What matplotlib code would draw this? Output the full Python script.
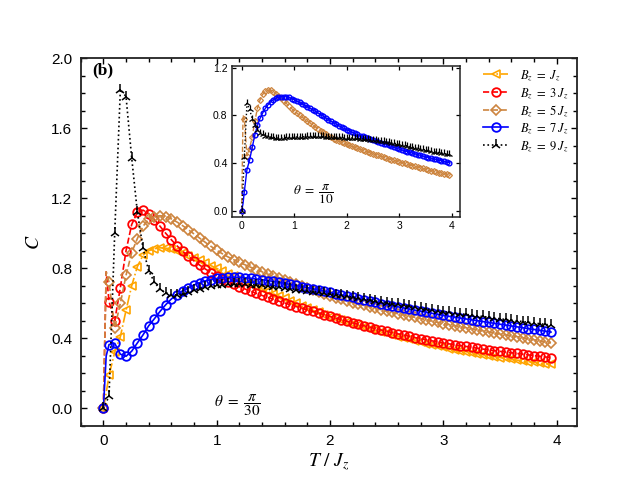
import numpy as np
import matplotlib
matplotlib.use("Agg")
import matplotlib.pyplot as plt
from matplotlib.ticker import MultipleLocator

plt.rcParams['mathtext.fontset'] = 'stix'
plt.rcParams['font.family'] = ['Liberation Sans', 'DejaVu Sans']

# temperature grid: 0, 0.025 (unmarked), then 0.05 ... 3.95
T = np.concatenate(([0.0, 0.025], np.arange(1, 80) * 0.05))
marks = [0] + list(range(2, len(T)))

# ---------- main panel (theta = pi/30) ----------
C_B1 = [0.0, 0.09, 0.19, 0.32, 0.41, 0.56, 0.70, 0.81, 0.875, 0.90, 0.912,
        0.917, 0.915, 0.908, 0.898, 0.886, 0.873, 0.859, 0.845, 0.830, 0.815,
        0.800, 0.785, 0.770, 0.755, 0.740, 0.725, 0.710, 0.696, 0.682, 0.668,
        0.654, 0.641, 0.628, 0.615, 0.602, 0.585, 0.572, 0.560, 0.548, 0.536,
        0.524, 0.514, 0.504, 0.494, 0.484, 0.474, 0.464, 0.455, 0.446, 0.437,
        0.428, 0.419, 0.410, 0.402, 0.394, 0.386, 0.378, 0.370, 0.363, 0.356,
        0.349, 0.342, 0.336, 0.330, 0.324, 0.318, 0.312, 0.306, 0.301, 0.296,
        0.291, 0.286, 0.281, 0.276, 0.272, 0.268, 0.264, 0.260, 0.256, 0.252]
C_B3 = [0.0, 0.78, 0.61, 0.50, 0.69, 0.90, 1.05, 1.12, 1.132, 1.112, 1.078,
        1.040, 1.000, 0.963, 0.928, 0.897, 0.868, 0.842, 0.818, 0.796, 0.776,
        0.757, 0.740, 0.724, 0.709, 0.695, 0.682, 0.669, 0.657, 0.645, 0.634,
        0.623, 0.612, 0.602, 0.592, 0.582, 0.572, 0.563, 0.554, 0.545, 0.535,
        0.525, 0.516, 0.507, 0.498, 0.489, 0.480, 0.472, 0.464, 0.456, 0.448,
        0.440, 0.433, 0.426, 0.419, 0.412, 0.405, 0.398, 0.392, 0.386, 0.380,
        0.374, 0.369, 0.364, 0.359, 0.354, 0.349, 0.344, 0.339, 0.334, 0.330,
        0.326, 0.322, 0.318, 0.314, 0.310, 0.306, 0.302, 0.298, 0.294, 0.290]
C_B5 = [0.0, 0.78, 0.72, 0.46, 0.60, 0.76, 0.89, 0.97, 1.04, 1.08, 1.095,
        1.100, 1.095, 1.082, 1.064, 1.043, 1.020, 0.996, 0.972, 0.948, 0.925,
        0.903, 0.883, 0.865, 0.849, 0.834, 0.820, 0.806, 0.793, 0.780, 0.767,
        0.755, 0.743, 0.731, 0.720, 0.709, 0.698, 0.687, 0.676, 0.665, 0.652,
        0.640, 0.631, 0.622, 0.613, 0.604, 0.596, 0.588, 0.580, 0.572, 0.564,
        0.556, 0.548, 0.541, 0.534, 0.527, 0.520, 0.513, 0.506, 0.499, 0.492,
        0.485, 0.479, 0.473, 0.467, 0.461, 0.455, 0.449, 0.443, 0.437, 0.431,
        0.425, 0.420, 0.415, 0.410, 0.404, 0.398, 0.392, 0.386, 0.380, 0.374]
C_B7 = [0.0, 0.30, 0.365, 0.372, 0.31, 0.298, 0.327, 0.374, 0.42, 0.472, 0.512,
        0.554, 0.592, 0.625, 0.650, 0.672, 0.688, 0.705, 0.718, 0.728, 0.736,
        0.742, 0.746, 0.748, 0.749, 0.748, 0.746, 0.743, 0.739, 0.735, 0.730,
        0.725, 0.720, 0.714, 0.708, 0.702, 0.696, 0.690, 0.683, 0.676, 0.669,
        0.662, 0.655, 0.648, 0.641, 0.634, 0.627, 0.620, 0.613, 0.606, 0.599,
        0.592, 0.586, 0.580, 0.574, 0.567, 0.561, 0.555, 0.549, 0.543, 0.537,
        0.531, 0.526, 0.521, 0.516, 0.511, 0.506, 0.501, 0.496, 0.491, 0.486,
        0.481, 0.476, 0.471, 0.466, 0.461, 0.456, 0.451, 0.446, 0.441, 0.436]
C_B9 = [0.0, 0.035, 0.07, 1.00, 1.82, 1.78, 1.43, 1.12, 0.915, 0.785, 0.722,
        0.680, 0.660, 0.650, 0.648, 0.655, 0.665, 0.675, 0.684, 0.692, 0.698,
        0.703, 0.707, 0.709, 0.710, 0.710, 0.709, 0.707, 0.705, 0.702, 0.699,
        0.695, 0.691, 0.687, 0.683, 0.679, 0.675, 0.671, 0.667, 0.663, 0.659,
        0.655, 0.650, 0.645, 0.640, 0.635, 0.630, 0.625, 0.620, 0.614, 0.609,
        0.604, 0.599, 0.594, 0.589, 0.583, 0.578, 0.573, 0.568, 0.563, 0.558,
        0.553, 0.549, 0.545, 0.541, 0.537, 0.533, 0.529, 0.525, 0.521, 0.517,
        0.512, 0.508, 0.504, 0.500, 0.496, 0.492, 0.488, 0.484, 0.480, 0.476]

# ---------- inset (theta = pi/10) ----------
Ci_B5 = [0.0, 0.80, 0.77, 0.46, 0.52, 0.62, 0.75, 0.86, 0.93, 0.975, 1.000,
         1.012, 1.008, 0.996, 0.980, 0.962, 0.942, 0.921, 0.899, 0.877, 0.856,
         0.835, 0.818, 0.801, 0.785, 0.768, 0.752, 0.736, 0.719, 0.703, 0.687,
         0.671, 0.657, 0.643, 0.630, 0.617, 0.605, 0.594, 0.584, 0.574, 0.564,
         0.555, 0.547, 0.539, 0.531, 0.523, 0.515, 0.508, 0.500, 0.493, 0.485,
         0.478, 0.471, 0.464, 0.457, 0.450, 0.443, 0.436, 0.429, 0.423, 0.416,
         0.410, 0.404, 0.397, 0.391, 0.384, 0.378, 0.372, 0.366, 0.360, 0.354,
         0.348, 0.342, 0.337, 0.331, 0.326, 0.320, 0.315, 0.310, 0.305, 0.300]
Ci_B7 = [0.0, 0.06, 0.16, 0.345, 0.425, 0.53, 0.635, 0.715, 0.775, 0.82, 0.858,
         0.888, 0.912, 0.930, 0.943, 0.951, 0.955, 0.956, 0.954, 0.949, 0.940,
         0.930, 0.919, 0.908, 0.896, 0.884, 0.872, 0.859, 0.846, 0.833, 0.820,
         0.806, 0.792, 0.778, 0.764, 0.750, 0.737, 0.724, 0.712, 0.700, 0.689,
         0.678, 0.668, 0.658, 0.648, 0.639, 0.630, 0.622, 0.614, 0.606, 0.599,
         0.592, 0.585, 0.578, 0.570, 0.562, 0.555, 0.547, 0.539, 0.531, 0.523,
         0.516, 0.509, 0.502, 0.496, 0.489, 0.483, 0.477, 0.470, 0.464, 0.458,
         0.452, 0.446, 0.441, 0.435, 0.430, 0.424, 0.419, 0.413, 0.408, 0.402]
Ci_B9 = [0.0, 0.20, 0.45, 0.90, 0.85, 0.77, 0.715, 0.68, 0.655, 0.64, 0.63,
         0.623, 0.618, 0.615, 0.613, 0.612, 0.612, 0.613, 0.614, 0.615, 0.616,
         0.617, 0.618, 0.619, 0.620, 0.621, 0.622, 0.622, 0.623, 0.623, 0.623,
         0.622, 0.622, 0.621, 0.620, 0.619, 0.618, 0.617, 0.616, 0.615, 0.613,
         0.612, 0.611, 0.609, 0.608, 0.606, 0.604, 0.602, 0.600, 0.598, 0.596,
         0.593, 0.590, 0.587, 0.584, 0.581, 0.578, 0.574, 0.570, 0.566, 0.562,
         0.558, 0.553, 0.548, 0.543, 0.538, 0.533, 0.528, 0.523, 0.518, 0.514,
         0.510, 0.505, 0.501, 0.496, 0.492, 0.488, 0.484, 0.480, 0.476, 0.472]

labels = [r'$B_z\ =\ J_z$', r'$B_z\ =\ 3\,J_z$', r'$B_z\ =\ 5\,J_z$',
          r'$B_z\ =\ 7\,J_z$', r'$B_z\ =\ 9\,J_z$']

ORANGE = '#FFA500'
RED = '#FF0000'
BROWN = '#CD853F'
BLUE = '#0000FF'
BLACK = '#000000'

fig = plt.figure(figsize=(6.41, 4.79), dpi=100)
ax = fig.add_axes([0.1259, 0.1106, 0.7743, 0.7683])

ms = 6.2
ax.plot(T, C_B1, color=ORANGE, ls='-.', lw=1.2, marker='<', ms=ms, mfc='none',
        mew=1.2, markevery=marks, label=labels[0])
ax.plot(T, C_B3, color=RED, ls='--', lw=1.2, marker='o', ms=ms, mfc='none',
        mew=1.3, markevery=marks, label=labels[1])
ax.plot(T, C_B5, color=BROWN, ls='--', lw=1.2, marker='D', ms=5.2, mfc='none',
        mew=1.2, markevery=marks, label=labels[2])
ax.plot(T, C_B7, color=BLUE, ls='-', lw=1.2, marker='o', ms=ms, mfc='none',
        mew=1.3, markevery=marks, label=labels[3])
ax.plot(T, C_B9, color=BLACK, ls=':', lw=1.2, marker='2', ms=8, mew=1.1,
        markevery=marks, label=labels[4])

ax.set_xlim(-0.2, 4.18)
ax.set_ylim(-0.1, 2.0)
ax.xaxis.set_major_locator(MultipleLocator(1))
ax.xaxis.set_minor_locator(MultipleLocator(0.2))
ax.yaxis.set_major_locator(MultipleLocator(0.4))
ax.yaxis.set_minor_locator(MultipleLocator(0.1))
ax.yaxis.set_major_formatter(matplotlib.ticker.FormatStrFormatter('%.1f'))
ax.tick_params(which='both', direction='in', top=True, right=True, width=1.0)
ax.tick_params(which='major', length=4.5, labelsize=11, pad=6)
ax.tick_params(which='minor', length=3)
for s in ax.spines.values():
    s.set_linewidth(1.3)
    s.set_color('#222222')

ax.set_xlabel(r'$T\ /\ J_z$', fontsize=14, labelpad=2)
ax.set_ylabel(r'$C$', fontsize=14, labelpad=6)
ax.text(0.023, 0.988, '(b)', transform=ax.transAxes, ha='left', va='top',
        fontsize=12.5, fontweight='bold', family=['Liberation Serif'])
ax.text(0.98, 0.02, r'$\theta\ =\ \dfrac{\pi}{30}$', fontsize=11,
        ha='left', va='center')

leg = ax.legend(loc='upper right', bbox_to_anchor=(1.0, 0.995), frameon=False,
                fontsize=9, handlelength=2.0, handletextpad=0.9,
                labelspacing=0.22, borderaxespad=0.3)

# inset
axi = fig.add_axes([0.3615, 0.5476, 0.3566, 0.3152])
msi = 3.4
axi.plot(T, Ci_B5, color=BROWN, ls='--', lw=1.0, marker='D', ms=3.0,
         mfc='none', mew=0.9, markevery=marks)
axi.plot(T, Ci_B7, color=BLUE, ls='-', lw=1.0, marker='o', ms=msi,
         mfc='none', mew=1.0, markevery=marks)
axi.plot(T, Ci_B9, color=BLACK, ls=':', lw=1.0, marker='2', ms=5.5, mew=0.9,
         markevery=marks)
axi.set_xlim(-0.19, 4.16)
axi.set_ylim(-0.05, 1.215)
axi.xaxis.set_major_locator(MultipleLocator(1))
axi.yaxis.set_major_locator(MultipleLocator(0.4))
axi.yaxis.set_major_formatter(matplotlib.ticker.FormatStrFormatter('%.1f'))
axi.tick_params(which='both', direction='in', top=True, right=True,
                length=3, width=0.9, labelsize=7.5, pad=3)
for s in axi.spines.values():
    s.set_linewidth(1.1)
    s.set_color('#222222')
axi.text(0.98, 0.134, r'$\theta\ =\ \dfrac{\pi}{10}$', fontsize=9.5,
         ha='left', va='center')

fig.savefig('out.png', dpi=100)
